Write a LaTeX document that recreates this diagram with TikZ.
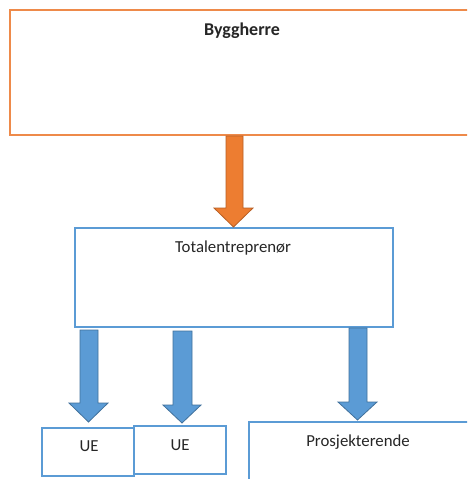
\documentclass[tikz,border=0pt]{standalone}
\usepackage{fontspec}
\setmainfont{Carlito}
\definecolor{orangeline}{HTML}{EE8A4A}
\definecolor{orangefill}{HTML}{ED7D31}
\definecolor{orangeedge}{HTML}{B85F24}
\definecolor{blueline}{HTML}{5B9BD5}
\definecolor{bluefill}{HTML}{5B9BD5}
\definecolor{blueedge}{HTML}{41719C}
\tikzset{
  orgbox/.style={draw=#1, line width=1.4pt, fill=white},
  boxtext/.style={font=\fontsize{16.8}{20}\selectfont, text=black!85, inner sep=0pt},
  blockarrow/.style={fill=#1fill, draw=#1edge, line width=0.8pt, line join=miter}
}
% block arrow: shaft from x=#1..#2, head from x=#3..#4, shaft top #5, head top #6, tip #7
\newcommand{\blkarrow}[8]{%
  \draw[blockarrow=#8] (#1,#5) -- (#2,#5) -- (#2,#6) -- (#4,#6)
    -- ({(#3+#4)/2},#7) -- (#3,#6) -- (#1,#6) -- cycle;}
\begin{document}
\begin{tikzpicture}[x=1pt,y=-1pt]
  \useasboundingbox (0,0) rectangle (467,479);
  \clip (0,0) rectangle (467,479);
  \fill[white] (0,0) rectangle (467,479);

  % boxes
  \draw[orgbox=orangeline] (10,10) rectangle (480,135);
  \node[boxtext, font=\fontsize{18}{21}\selectfont\bfseries, anchor=center] (byg) at (242,31) {Byggherre};

  \draw[orgbox=blueline] (75,228) rectangle (393,327);
  \node[boxtext, anchor=center] (te) at (233,248) {Totalentreprenør};

  \draw[orgbox=blueline] (42,428) rectangle (134,476);
  \node[boxtext, anchor=center] (ue1) at (89,446) {UE};

  \draw[orgbox=blueline] (134,426) rectangle (226,474);
  \node[boxtext, anchor=center] (ue2) at (180,445) {UE};

  \draw[orgbox=blueline] (249,422) rectangle (480,490);
  \node[boxtext, anchor=center] (pro) at (358,442) {Prosjekterende};

  % arrows
  \blkarrow{226}{243}{214}{253}{136}{208}{227}{orange}
  \blkarrow{80}{98}{69}{108}{330}{403}{422}{blue}
  \blkarrow{173}{192}{163}{201}{331}{405}{423}{blue}
  \blkarrow{349}{367}{338}{377}{328}{402}{420}{blue}
\end{tikzpicture}
\end{document}
